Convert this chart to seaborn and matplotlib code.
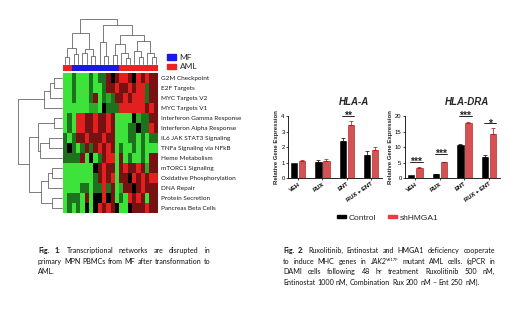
import numpy as np
import pandas as pd
import matplotlib
matplotlib.use('Agg')
import matplotlib.pyplot as plt
import seaborn as sns
from matplotlib.colors import LinearSegmentedColormap, ListedColormap
from matplotlib.patches import Patch

sns.set_theme(style='white')
plt.rcParams['font.family'] = ['Lato', 'DejaVu Sans']

W, H = 520, 311

# ---- Fig. 1 data: hallmark pathway heatmap ----
pathways = ['G2M Checkpoint', 'E2F Targets', 'MYC Targets V2', 'MYC Targets V1',
            'Interferon Gamma Response', 'Interferon Alpha Response',
            'IL6 JAK STAT3 Signaling', 'TNFa Signaling via NFkB', 'Heme Metabolism',
            'mTORC1 Signaling', 'Oxidative Phosphorylation', 'DNA Repair',
            'Protein Secretion', 'Pancreas Beta Cells']

col_groups = ['AML', 'AML', 'MF', 'MF', 'MF', 'MF', 'MF', 'MF', 'MF', 'MF', 'MF', 'MF', 'MF',
              'AML', 'AML', 'AML', 'AML', 'AML', 'AML', 'AML', 'AML', 'AML']

scores = [
    [-2.0, -2.0, -1.0, -2.0, -2.0, -2.0, -1.0, -2.0, -1.0, -1.0, 1.0, 0.0, 1.0, 1.9, 1.9, 1.0, 0.0, 1.9, 1.0, 1.9, 1.0, 1.0],
    [-2.0, -2.0, -1.0, -2.0, -2.0, -2.0, -1.0, -2.0, -2.0, -1.0, 1.0, 1.0, 1.9, 1.0, 1.0, 1.9, 1.0, 1.9, 1.9, -1.0, 1.0, 1.0],
    [-2.0, -2.0, -1.0, -2.0, -2.0, -2.0, -1.0, 1.0, -2.0, -1.0, -1.5, -1.0, 1.0, 1.0, 1.9, 1.0, 1.9, 1.9, 1.9, -1.0, 1.0, 1.0],
    [-2.0, -2.0, -2.0, -2.0, -2.0, -2.0, -1.5, -1.5, -2.0, 0.0, -1.0, -1.0, -1.0, 1.9, 1.9, 1.9, 1.9, 1.9, 1.9, 1.0, 1.9, 1.0],
    [-2.0, -1.0, -2.0, 1.9, 1.9, 1.0, 1.0, 1.9, 1.0, 1.0, 1.9, 1.0, -2.0, -2.0, -2.0, -2.0, 0.0, -1.5, -1.0, -1.0, 1.0, 1.0],
    [-2.0, -1.0, -2.0, 1.9, 1.9, 1.0, 1.0, 1.9, 1.0, 1.0, 1.9, 1.0, -2.0, -2.0, -2.0, -1.0, -1.0, 0.0, -1.0, -1.0, 1.9, 1.0],
    [-1.0, -2.0, -1.0, 1.0, 1.0, 1.9, 1.0, 1.0, 1.0, 1.9, 1.0, 1.0, -2.0, -2.0, -2.0, -1.0, -1.0, -2.0, -1.0, -2.0, -1.0, -1.0],
    [-1.0, 0.0, -1.0, -2.0, -1.0, 1.0, -1.0, 1.0, 1.9, 1.0, 1.9, 1.0, -2.0, -1.0, -2.0, -2.0, -1.0, -2.0, -1.0, -2.0, -2.0, -2.0],
    [-1.0, -1.0, -1.0, -1.0, 1.0, -2.0, 0.0, -2.0, -1.0, 1.0, 1.9, 1.9, -2.0, 1.0, -2.0, -1.0, -2.0, -2.0, -1.0, -2.0, 1.0, 1.0],
    [-2.0, -2.0, -2.0, -2.0, -2.0, -2.0, -2.0, 0.0, 1.0, 1.9, 1.0, 1.0, -2.0, 1.0, 1.9, 1.0, 1.0, 1.9, 1.0, -1.5, 1.0, 1.0],
    [-2.0, -2.0, -2.0, -2.0, -2.0, -2.0, -2.0, -1.0, 1.0, 1.9, 1.0, 1.9, -2.0, 1.0, 1.0, 0.0, 1.9, 1.0, 1.9, 1.0, 1.9, 1.9],
    [-2.0, -2.0, -2.0, -2.0, -1.0, -1.0, -2.0, -1.0, -1.0, 1.9, -1.0, 1.0, -2.0, -1.5, 1.0, 1.0, 0.0, 1.0, 1.9, 1.0, 1.0, 1.0],
    [-2.0, -1.0, -1.0, -1.0, -2.0, 1.0, -2.0, 0.0, 0.0, 1.9, 0.0, 1.0, -2.0, -1.0, -2.0, 1.9, 1.0, 1.9, 1.0, -2.0, 1.0, 1.0],
    [-2.0, -1.0, -2.0, -1.0, -2.0, 0.0, -2.0, 0.0, 1.9, 1.0, 1.9, 1.0, 0.0, -2.0, -2.0, 0.0, 1.0, 1.0, 1.0, 1.9, 1.0, 1.0],
]

# cluster trees: [left, right, merge height], leaves are column / row indices
col_tree = [[[[0, 1, 1.6], [2, 3, 2.2], 3.6], [[4, 5, 2.4], [6, 7, 1.8], 3.3], 6.8],
            [[8, [9, 10, 1.7], 4.9],
             [[[11, 12, 2.0], [13, [14, 15, 1.4], 2.4], 4.5],
              [[16, [17, 18, 1.5], 2.8], [19, [20, 21, 1.6], 2.5], 5.0], 6.4], 8.7],
            10.0]
row_tree = [[[[0, 1, 1.8], 2, 2.8], 3, 4.0],
            [[[4, 5, 1.8], [[6, 7, 2.9], 8, 5.1], 5.5],
             [[[9, 10, 2.3], 11, 3.1], [12, 13, 2.3], 4.7], 7.6],
            10.0]

# ---- Fig. 2 data: qPCR ----
treatments = ['VEH', 'RUX', 'ENT', 'RUX + ENT']
hla_a_ctrl = [1.0, 1.05, 2.39, 1.47]
hla_a_ctrl_err = [0.0, 0.12, 0.2, 0.25]
hla_a_sh = [1.09, 1.12, 3.44, 1.81]
hla_a_sh_err = [0.08, 0.12, 0.22, 0.18]
hla_dra_ctrl = [1.0, 1.3, 10.5, 6.8]
hla_dra_ctrl_err = [0.0, 0.15, 0.6, 0.5]
hla_dra_sh = [3.3, 5.1, 17.9, 14.3]
hla_dra_sh_err = [0.15, 0.2, 0.3, 1.7]
hla_a_sig = [(2, '**', 4.0)]
hla_dra_sig = [(0, '***', 5.1), (1, '***', 7.9), (2, '***', 20.0), (3, '*', 17.6)]

GREEN, RED, BLUE = '#3de33a', '#ee2222', '#1a1ae6'
BAR_RED = '#ec3b3f'


def box(x0, y0, x1, y1):
    # pixel box measured from top-left -> figure fraction rect
    return [x0 / W, 1 - y1 / H, (x1 - x0) / W, (y1 - y0) / H]


def draw_tree(node, ax, vertical):
    if isinstance(node, int):
        return node + 0.5, 0.0
    a, b, h = node
    pa, ha = draw_tree(a, ax, vertical)
    pb, hb = draw_tree(b, ax, vertical)
    p = [pa, pa, pb, pb]
    q = [ha, h, h, hb]
    if vertical:
        ax.plot(p, q, color='#5a5a5a', lw=0.55, clip_on=False)
    else:
        ax.plot(q, p, color='#5a5a5a', lw=0.55, clip_on=False)
    return (pa + pb) / 2, h


fig = plt.figure(figsize=(W / 100, H / 100), dpi=100)
fig.patch.set_facecolor('white')

# heatmap
cmap = LinearSegmentedColormap.from_list('gkr', [GREEN, '#000000', RED])
hm = pd.DataFrame(scores, index=pathways)
ax_hm = fig.add_axes(box(63, 73, 158, 213))
sns.heatmap(hm, cmap=cmap, vmin=-2, vmax=2, cbar=False, ax=ax_hm,
            xticklabels=False, yticklabels=True)
ax_hm.yaxis.tick_right()
ax_hm.tick_params(axis='y', length=0, pad=2.5, labelsize=4.6, rotation=0)
ax_hm.set_ylabel('')
for t in ax_hm.get_yticklabels():
    t.set_color('#1a1a1a')

# group colour strip
ax_cb = fig.add_axes(box(63, 65, 158, 71))
strip = pd.DataFrame([[1 if g == 'MF' else 0 for g in col_groups]])
sns.heatmap(strip, cmap=ListedColormap([RED, BLUE]), vmin=0, vmax=1, cbar=False,
            ax=ax_cb, xticklabels=False, yticklabels=False)

# dendrograms
ax_cd = fig.add_axes(box(63, 19, 158, 64))
draw_tree(col_tree, ax_cd, True)
ax_cd.set_xlim(0, len(col_groups))
ax_cd.set_ylim(0, 10)
ax_cd.axis('off')

ax_rd = fig.add_axes(box(18, 73, 62, 213))
draw_tree(row_tree, ax_rd, False)
ax_rd.set_ylim(len(pathways), 0)
ax_rd.set_xlim(10, 0)
ax_rd.axis('off')

fig.legend(handles=[Patch(color=BLUE), Patch(color=RED)], labels=['MF', 'AML'],
           loc='upper left', bbox_to_anchor=(167 / W, 1 - 54 / H), frameon=False,
           fontsize=6, handlelength=1.1, handleheight=0.6, labelspacing=0.25,
           handletextpad=0.4, borderpad=0, borderaxespad=0)


# bar panels
def bar_panel(rect, title, title_x, ctrl, ctrl_err, sh, sh_err, ymax, ystep, sig):
    ax = fig.add_axes(rect)
    df = pd.DataFrame({'treatment': treatments * 2,
                       'group': ['Control'] * 4 + ['shHMGA1'] * 4,
                       'value': ctrl + sh})
    sns.barplot(data=df, x='treatment', y='value', hue='group',
                palette=['#000000', BAR_RED], width=0.66, gap=0.22,
                ax=ax, legend=False, linewidth=0.4)
    for cont, errs, ec in zip(ax.containers, [ctrl_err, sh_err], ['#000000', '#9a1414']):
        for bar, e in zip(cont, errs):
            bar.set_edgecolor(ec)
            if e > 0:
                ax.errorbar(bar.get_x() + bar.get_width() / 2, bar.get_height(),
                            yerr=[[0], [e]], color=ec, lw=0.5, capsize=1.5, capthick=0.5)
    bars0, bars1 = ax.containers[0], ax.containers[1]
    for i, label, y in sig:
        xa = bars0[i].get_x() + bars0[i].get_width() * 0.3
        xb = bars1[i].get_x() + bars1[i].get_width()
        ax.plot([xa, xb], [y, y], color='black', lw=0.6, clip_on=False)
        ax.annotate(label, ((xa + xb) / 2, y), xytext=(0, -2.2), textcoords='offset points',
                    ha='center', va='baseline', fontsize=7.5, fontweight='bold',
                    family='Liberation Sans', annotation_clip=False)
    ax.set_ylim(0, ymax)
    ax.set_yticks(np.arange(0, ymax + 0.1, ystep))
    ax.set_xlim(-0.42, 3.45)
    sns.despine(ax=ax)
    for s in ['left', 'bottom']:
        ax.spines[s].set_linewidth(0.6)
        ax.spines[s].set_color('black')
    ax.tick_params(axis='both', which='both', length=1.5, width=0.5, pad=1,
                   labelsize=4.2, left=True, bottom=True, colors='black')
    ax.set_xticks(range(len(treatments)))
    ax.set_xticklabels(treatments, rotation=35, ha='right', rotation_mode='anchor',
                       family='Liberation Sans', fontweight='bold')
    for t in ax.get_yticklabels():
        t.set_family('Liberation Sans')
    ax.set_xlabel('')
    ax.set_ylabel('Relative Gene Expression', fontsize=4.3, labelpad=1.5,
                  family='Liberation Sans', fontweight='bold')
    ax.set_facecolor('white')
    fig.text(title_x / W, 1 - 102 / H, title, ha='center', va='center', fontsize=7,
             fontweight='bold', style='italic', family='Liberation Sans')
    return ax


bar_panel(box(288, 116, 382, 178), 'HLA-A', 354,
          hla_a_ctrl, hla_a_ctrl_err, hla_a_sh, hla_a_sh_err, 4, 1, hla_a_sig)
bar_panel(box(405, 116, 500, 178), 'HLA-DRA', 467,
          hla_dra_ctrl, hla_dra_ctrl_err, hla_dra_sh, hla_dra_sh_err, 20, 5, hla_dra_sig)

fig.legend(handles=[Patch(color='black'), Patch(color=BAR_RED)],
           labels=['Control', 'shHMGA1'], loc='center',
           bbox_to_anchor=(388 / W, 1 - 218 / H), ncol=2, frameon=False,
           handlelength=1.0, handleheight=0.35, columnspacing=1.4,
           handletextpad=0.4, prop={'family': 'Liberation Sans', 'size': 6})

# captions (justified like the source)
CAP = 5.1
cap1_lines = ['Fig. 1: Transcriptional networks are disrupted in',
              'primary MPN PBMCs from MF after transformation to',
              'AML.']
cap2_lines = ['Fig. 2: Ruxolitinib, Entinostat and HMGA1 deficiency cooperate',
              'to induce MHC genes in JAK2^V617F mutant AML cells. (qPCR in',
              'DAMI cells following 48 hr treatment Ruxolitinib 500 nM,',
              'Entinostat 1000 nM, Combination Rux 200 nM \u2013 Ent 250 nM).']

renderer = fig.canvas.get_renderer()


def caption(lines, x0, x1, y0, nbold):
    count = 0
    for li, line in enumerate(lines):
        y = 1 - (y0 + li * 10.7) / H
        groups = []
        for w in line.split(' '):
            if '^' in w:
                base, sup = w.split('^')
                pieces = [fig.text(0, y, base, fontsize=CAP, style='italic', va='baseline'),
                          fig.text(0, y + 2.4 / H, sup, fontsize=CAP * 0.6, va='baseline')]
            else:
                pieces = [fig.text(0, y, w, fontsize=CAP, va='baseline',
                                   fontweight='bold' if count < nbold else 'normal')]
            count += 1
            for p in pieces:
                p.set_color('#111111')
            groups.append((pieces, [p.get_window_extent(renderer).width for p in pieces]))
        total = sum(sum(ws) for _, ws in groups)
        space = CAP * 0.26 * 100 / 72
        if li < len(lines) - 1 and len(groups) > 1:
            space = max(space * 0.6, (x1 - x0 - total) / (len(groups) - 1))
        x = x0
        for pieces, ws in groups:
            for p, wd in zip(pieces, ws):
                p.set_x(x / W)
                x += wd
            x += space


caption(cap1_lines, 38, 210, 253, 2)
caption(cap2_lines, 283, 495, 253, 2)

fig.savefig('out.png', dpi=100, facecolor='white')
